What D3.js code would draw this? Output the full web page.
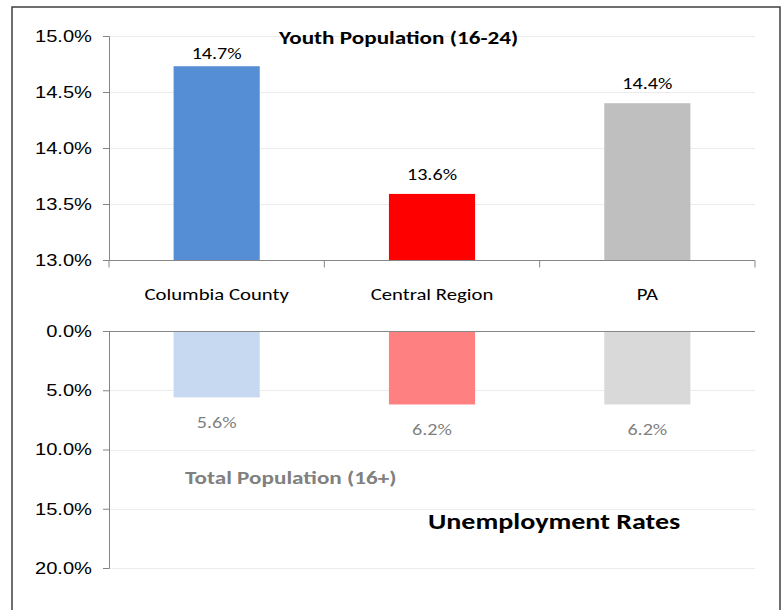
<!DOCTYPE html>
<html>
<head>
<meta charset="utf-8">
<script src="https://cdn.jsdelivr.net/npm/d3@7"></script>
<style>
  body { margin: 0; background: #fff; }
  svg { display: block; font-family: Carlito, Calibri, "Liberation Sans Narrow", "Open Sans", sans-serif; }
</style>
</head>
<body>
<svg id="chart" width="784" height="610"></svg>
<script>
// data
var categories = ['Columbia County', 'Central Region', 'PA']
var youthRates = [14.73, 13.59, 14.4]
var totalRates = [5.6, 6.2, 6.2]
var youthTicks = [13.0, 13.5, 14.0, 14.5, 15.0]
var totalTicks = [0, 5, 10, 15, 20]
var darkColors = ['#558ed5', '#ff0000', '#bfbfbf']
var lightColors = ['#c6d9f1', '#ff8080', '#d9d9d9']

var svg = d3.select('#chart')
var SX = 1.22 // the source text is drawn a bit wide

// move x/y into a transform so the glyphs can be stretched sideways
function stretch(sel) {
  sel.each(function() {
    var t = d3.select(this)
    var tx = +t.attr('x') || 0, ty = +t.attr('y') || 0
    t.attr('x', 0).attr('y', 0)
      .attr('transform', 'translate(' + tx + ',' + ty + ') scale(' + SX + ',1)')
  })
}

// outer frame
svg.append('rect')
  .attr('x', 12).attr('y', 7)
  .attr('width', 768).attr('height', 620)
  .attr('fill', 'none')
  .attr('stroke', '#3f3f3f')
  .attr('stroke-width', 1.5)

var left = 109, right = 755
var x = d3.scaleBand()
  .domain(categories)
  .range([left, right])
  .paddingInner(0.6)
  .paddingOuter(0.3)

var yTop = d3.scaleLinear().domain([13, 15]).range([260, 36])
var yBot = d3.scaleLinear().domain([0, 20]).range([331, 568])

var fmt = function(d) { return d3.format('.1f')(d) + '%' }

function styleAxis(g) {
  g.select('.domain').attr('stroke', '#868686')
  g.selectAll('.tick line').attr('stroke', '#868686')
  g.selectAll('.tick text')
    .attr('fill', '#000')
    .style('font-size', '16.5px')
    .call(stretch)
}

// gridlines
function grid(scale, ticks) {
  svg.append('g')
    .selectAll('line')
    .data(ticks)
    .enter()
    .append('line')
    .attr('x1', left).attr('x2', right)
    .attr('y1', function(d) { return Math.round(scale(d)) + 0.5 })
    .attr('y2', function(d) { return Math.round(scale(d)) + 0.5 })
    .attr('stroke', '#ececec')
}
grid(yTop, youthTicks.slice(1))
grid(yBot, totalTicks.slice(1))

// top panel: youth
svg.append('g')
  .selectAll('rect')
  .data(youthRates)
  .enter()
  .append('rect')
  .attr('x', function(d, i) { return x(categories[i]) })
  .attr('width', x.bandwidth())
  .attr('y', function(d) { return yTop(d) })
  .attr('height', function(d) { return yTop(13) - yTop(d) })
  .attr('fill', function(d, i) { return darkColors[i] })

// labels stay inside the plot area, like the original
svg.append('g')
  .selectAll('text')
  .data(youthRates)
  .enter()
  .append('text')
  .attr('x', function(d, i) { return x(categories[i]) + x.bandwidth() / 2 })
  .attr('y', function(d) { return Math.max(yTop(d) - 14, yTop(15) + 23) })
  .attr('text-anchor', 'middle')
  .style('font-size', '16.5px')
  .attr('fill', '#000')
  .text(function(d) { return d.toFixed(1) + '%' })
  .call(stretch)

svg.append('g')
  .attr('transform', 'translate(' + left + ',0)')
  .call(d3.axisLeft(yTop).tickValues(youthTicks).tickFormat(fmt).tickSizeOuter(0).tickSize(6).tickPadding(11))
  .call(styleAxis)

// category axis with tick marks between bands
var catAxis = svg.append('g')
  .attr('transform', 'translate(0,' + (yTop(13) + 0.5) + ')')
catAxis.append('line')
  .attr('x1', left).attr('x2', right)
  .attr('stroke', '#868686')
catAxis.selectAll('.sep')
  .data(d3.range(categories.length + 1))
  .enter()
  .append('line')
  .attr('class', 'sep')
  .attr('x1', function(i) { return left + i * x.step() })
  .attr('x2', function(i) { return left + i * x.step() })
  .attr('y1', 0).attr('y2', 7)
  .attr('stroke', '#868686')
catAxis.selectAll('text')
  .data(categories)
  .enter()
  .append('text')
  .attr('x', function(d) { return x(d) + x.bandwidth() / 2 })
  .attr('y', 39)
  .attr('text-anchor', 'middle')
  .style('font-size', '17px')
  .attr('fill', '#000')
  .text(function(d) { return d })
  .call(stretch)

// bottom panel: total
svg.append('g')
  .selectAll('rect')
  .data(totalRates)
  .enter()
  .append('rect')
  .attr('x', function(d, i) { return x(categories[i]) })
  .attr('width', x.bandwidth())
  .attr('y', yBot(0))
  .attr('height', function(d) { return yBot(d) - yBot(0) })
  .attr('fill', function(d, i) { return lightColors[i] })

svg.append('g')
  .selectAll('text')
  .data(totalRates)
  .enter()
  .append('text')
  .attr('x', function(d, i) { return x(categories[i]) + x.bandwidth() / 2 })
  .attr('y', function(d) { return yBot(d) + 31 })
  .attr('text-anchor', 'middle')
  .style('font-size', '16.5px')
  .attr('fill', '#7f7f7f')
  .text(function(d) { return d.toFixed(1) + '%' })
  .call(stretch)

svg.append('g')
  .attr('transform', 'translate(' + left + ',0)')
  .call(d3.axisLeft(yBot).tickValues(totalTicks).tickFormat(fmt).tickSizeOuter(0).tickSize(6).tickPadding(11))
  .call(styleAxis)

svg.append('line')
  .attr('x1', left).attr('x2', right)
  .attr('y1', yBot(0) + 0.5).attr('y2', yBot(0) + 0.5)
  .attr('stroke', '#868686')

// titles
svg.append('text')
  .attr('x', 279).attr('y', 44)
  .style('font-size', '19px').style('font-weight', 'bold')
  .attr('fill', '#000')
  .text('Youth Population (16-24)')
  .call(stretch)

svg.append('text')
  .attr('x', 185).attr('y', 484)
  .style('font-size', '19px').style('font-weight', 'bold')
  .attr('fill', '#808080')
  .text('Total Population (16+)')
  .call(stretch)

svg.append('text')
  .attr('x', 428).attr('y', 529)
  .style('font-size', '23px').style('font-weight', 'bold')
  .attr('fill', '#000')
  .text('Unemployment Rates')
  .call(stretch)
</script>
</body>
</html>
